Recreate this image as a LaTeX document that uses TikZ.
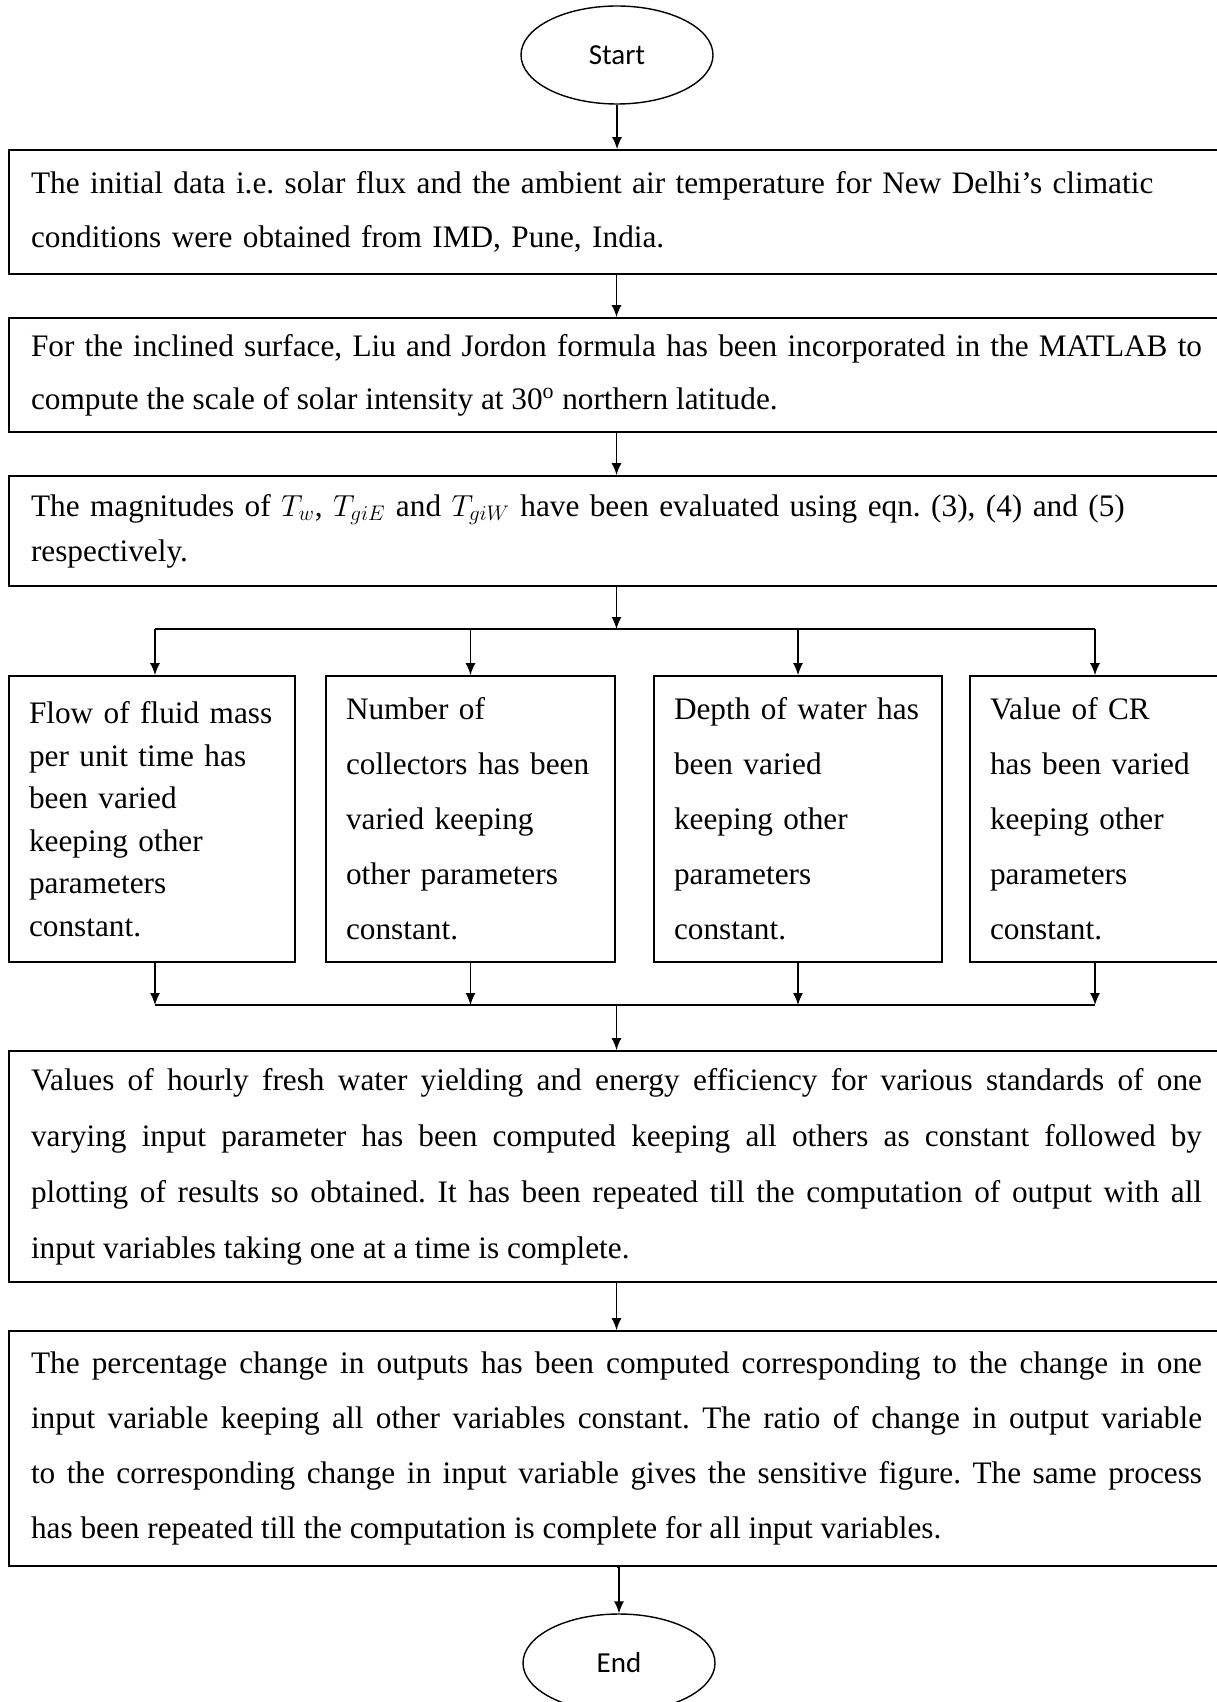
\documentclass[tikz,border=0pt]{standalone}
\usepackage{fontspec}
\setmainfont{Liberation Serif}
\newfontfamily\termfont{Carlito}
\usetikzlibrary{arrows.meta,shapes.geometric}
\frenchspacing

\begin{document}
\begin{tikzpicture}[
  term/.style={ellipse,draw,thick,minimum width=3.84cm,minimum height=1.96cm,inner sep=0pt,font=\termfont\fontsize{16.5}{20}\selectfont},
  box/.style={draw,line width=1pt,minimum width=24.3cm,text width=23.42cm,inner xsep=0.44cm,align=left,font=\fontsize{17.8}{#1}\selectfont},
  box/.default=30.7,
  jbox/.style={box=#1,align=justify},
  jbox/.default=31.6,
  pbox/.style={draw,line width=1pt,minimum height=5.72cm,inner xsep=0.4cm,text width=4.94cm,align=left,font=\fontsize{17.8}{#1}\selectfont},
  pbox/.default=31.3,
  arrow/.style={-{Latex[length=2.4mm,width=2mm]},thick},
  line/.style={thick}
]
\useasboundingbox (0,0) rectangle (24.34,-34.04);
\node[term] (start) at (12.34,-1.1) {Start};
\node[box,minimum height=2.48cm] (data) at (12.33,-4.24) {The initial data i.e. solar flux and the ambient air temperature for New Delhi's climatic\\conditions were obtained from IMD, Pune, India.};
\node[jbox=30.2,minimum height=2.28cm] (solar) at (12.33,-7.5) {For the inclined surface, Liu and Jordon formula has been incorporated in the MATLAB to\linebreak compute the scale of solar intensity at 30\textsuperscript{o} northern latitude.};
\node[box=25.6,minimum height=2.2cm] (temps) at (12.33,-10.62) {The magnitudes of $T_w$, $T_{giE}$ and $T_{giW}$ have been evaluated using eqn. (3), (4) and (5)\\respectively.};
% four parameters varied one at a time
\node[pbox=24.2,minimum width=5.72cm,text width=4.92cm] (flow) at (3.04,-16.38) {Flow of fluid mass\\per unit time has\\been varied\\keeping other\\parameters\\constant.};
\node[pbox,minimum width=5.78cm,text width=4.98cm] (coll) at (9.41,-16.38) {Number of\\collectors has been\\varied keeping\\other parameters\\constant.};
\node[pbox,minimum width=5.76cm,text width=4.96cm] (depth) at (15.96,-16.38) {Depth of water has\\been varied\\keeping other\\parameters\\constant.};
\node[pbox,minimum width=5.76cm,text width=4.96cm] (crval) at (22.28,-16.38) {Value of CR\\has been varied\\keeping other\\parameters\\constant.};
\node[jbox=31.9,minimum height=4.62cm] (yield) at (12.33,-23.33) {Values of hourly fresh water yielding and energy efficiency for various standards of one\linebreak varying input parameter has been computed keeping all others as constant followed by\linebreak plotting of results so obtained. It has been repeated till the computation of output with all\linebreak input variables taking one at a time is complete.};
\node[jbox=31.4,minimum height=4.7cm] (sens) at (12.33,-28.97) {The percentage change in outputs has been computed corresponding to the change in one\linebreak input variable keeping all other variables constant. The ratio of change in output variable\linebreak to the corresponding change in input variable gives the sensitive figure. The same process\linebreak has been repeated till the computation is complete for all input variables.};
\node[term] (end) at (12.38,-33.26) {End};
\coordinate (splitL) at (3.1,-12.58);
\coordinate (splitR) at (21.9,-12.58);
\coordinate (joinL) at (3.1,-20.1);
\coordinate (joinR) at (21.9,-20.1);
\draw[arrow] (start.south) -- (start.south |- data.north);
\draw[arrow] (data.south) -- (solar.north);
\draw[arrow] (solar.south) -- (temps.north);
\draw[arrow] (temps.south) -- (temps.south |- splitL);
\draw[line] (splitL) -- (splitR);
\draw[arrow] (splitL) -- (splitL |- flow.north);
\draw[arrow] (coll.north |- splitL) -- (coll.north);
\draw[arrow] (depth.north |- splitL) -- (depth.north);
\draw[arrow] (splitR) -- (splitR |- crval.north);
\draw[arrow] (joinL |- flow.south) -- (joinL);
\draw[arrow] (coll.south) -- (coll.south |- joinL);
\draw[arrow] (depth.south) -- (depth.south |- joinL);
\draw[arrow] (joinR |- crval.south) -- (joinR);
\draw[line] (joinL) -- (joinR);
\draw[arrow] (yield.north |- joinL) -- (yield.north);
\draw[arrow] (yield.south) -- (sens.north);
\draw[arrow] (sens.south) -- (sens.south -| end.north) -- (end.north);
\end{tikzpicture}
\end{document}
